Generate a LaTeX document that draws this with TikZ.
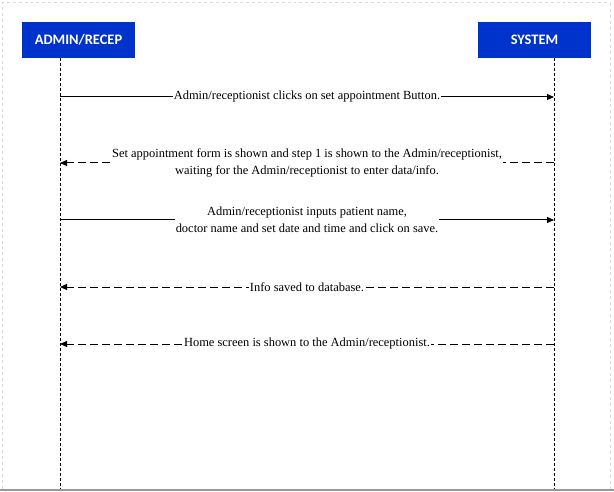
\documentclass[tikz,border=0pt]{standalone}
\usepackage{fontspec}
\setmainfont{Liberation Serif}
\newfontfamily\boxfont{Carlito}
\usetikzlibrary{arrows.meta}
\definecolor{actorblue}{RGB}{0,51,204}
\definecolor{framegray}{RGB}{215,215,215}
\tikzset{
  actor/.style={fill=actorblue, text=white, minimum width=113bp, minimum height=36bp,
    inner sep=0pt, font=\boxfont\bfseries\fontsize{14.5}{16}\selectfont},
  lifeline/.style={line width=1bp, dash pattern=on 3bp off 2bp},
  msg/.style={line width=1bp, -{Triangle[length=7bp,width=6bp]}},
  reply/.style={msg, dash pattern=on 8bp off 4bp},
  msgtext/.style={fill=white, inner sep=1bp, align=center,
    font=\fontsize{12.5}{17}\selectfont}
}
\begin{document}
\begin{tikzpicture}[x=1bp, y=-1bp]
    \useasboundingbox (0, 0) rectangle (614, 492);
    % frame
    \draw[framegray, dashed, line width=1bp] (610, 490) -- (610, 2.5) -- (2.5, 2.5) -- (2.5, 490);
    \draw[gray!80, line width=1.5bp] (0, 490) -- (614, 490);
    % actors
    \node[actor] (admin) at (78.5, 40) {ADMIN/RECEP};
    \node[actor] (system) at (534.5, 40) {SYSTEM};
    \coordinate (adminstart) at (60, 58);
    \coordinate (adminend) at (60, 489);
    \coordinate (systemstart) at (554, 58);
    \coordinate (systemend) at (554, 489);
    \draw[lifeline] (adminstart) -- (adminend);
    \draw[lifeline] (systemstart) -- (systemend);
    % points on the lifelines from top to down
    \coordinate (a1) at (60, 97);   \coordinate (s1) at (554, 97);
    \coordinate (a2) at (60, 163);  \coordinate (s2) at (554, 163);
    \coordinate (a3) at (60, 220);  \coordinate (s3) at (554, 220);
    \coordinate (a4) at (60, 287);  \coordinate (s4) at (554, 287);
    \coordinate (a5) at (60, 344);  \coordinate (s5) at (554, 344);
    % messages
    \draw[msg] (a1) -- node[msgtext] (m1) {Admin/receptionist clicks on set appointment Button.} (s1);
    \draw[reply] (s2) -- node[msgtext] (m2) {Set appointment form is shown and step 1 is shown to the Admin/receptionist,\\ waiting for the Admin/receptionist to enter data/info.} (a2);
    \draw[msg] (a3) -- node[msgtext] (m3) {Admin/receptionist inputs patient name,\\ doctor name and set date and time and click on save.} (s3);
    \draw[reply] (s4) -- node[msgtext] (m4) {Info saved to database.} (a4);
    \draw[reply] (s5) -- node[msgtext] (m5) {Home screen is shown to the Admin/receptionist.} (a5);
\end{tikzpicture}
\end{document}
